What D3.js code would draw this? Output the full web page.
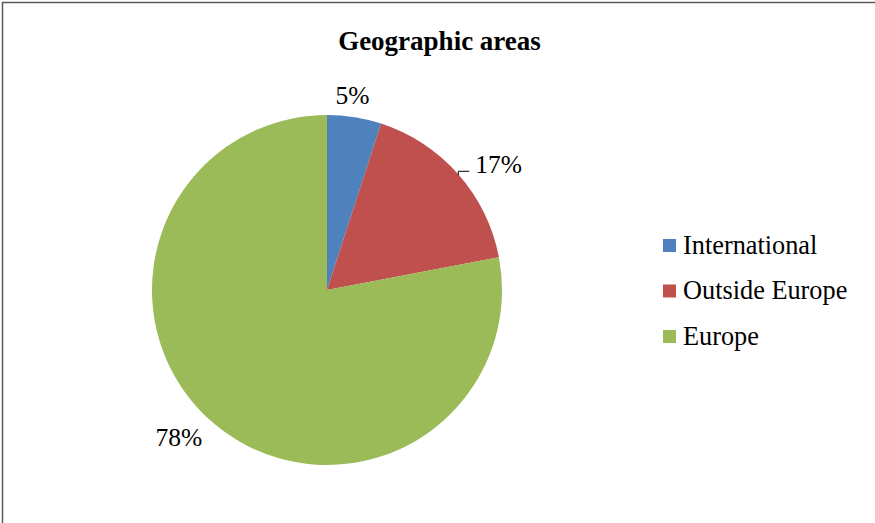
<!DOCTYPE html>
<html>
<head>
<meta charset="utf-8">
<script src="https://cdn.jsdelivr.net/npm/d3@7"></script>
<style>
  html, body { margin: 0; padding: 0; background: #fff; }
  svg { display: block; }
</style>
</head>
<body>
<svg id="chart" width="875" height="523"></svg>
<script>
// Share of activity by geographic area
const categories = ["International", "Outside Europe", "Europe"];
const shares = [5, 17, 78];
const labels = ["5%", "17%", "78%"];
const colors = ["#4F81BD", "#C0504D", "#9BBB59"];

const svg = d3.select("#chart");
const W = 875, H = 523;
const FONT = '"Liberation Serif"';

// Chart area frame: top and left edges fall inside the view
svg.append("path")
  .attr("d", `M2.5,${H}L2.5,2.5L${W},2.5`)
  .attr("fill", "none")
  .attr("stroke", "#595959")
  .attr("stroke-width", 1.5);

svg.append("text")
  .attr("x", 439.5).attr("y", 50)
  .attr("text-anchor", "middle")
  .style("font-family", FONT)
  .style("font-weight", "bold")
  .style("font-size", "27px")
  .text("Geographic areas");

const cx = 327, cy = 290, r = 175;
const g = svg.append("g").attr("transform", `translate(${cx},${cy})`);

const pie = d3.pie().sort(null).value(d => d)(shares);
const arc = d3.arc().innerRadius(0).outerRadius(r);

g.selectAll("path.slice")
  .data(pie)
  .join("path")
  .attr("class", "slice")
  .attr("d", arc)
  .attr("fill", (d, i) => colors[i]);

// Label placement per slice: radius from centre, angular nudge, anchor
const labelCfg = [
  { rad: 197, dAng: -0.027, anchor: "middle" },
  { rad: 205, dAng: 0.0, anchor: "start", leader: true },
  { rad: 209, dAng: 0.097, anchor: "middle" }
];

pie.forEach((d, i) => {
  const c = labelCfg[i];
  const mid = (d.startAngle + d.endAngle) / 2;
  const a = mid + c.dAng;
  let lx = c.rad * Math.sin(a);
  let ly = -c.rad * Math.cos(a);
  if (c.leader) {
    // short elbow leader from the arc edge to the label
    const ex = r * Math.sin(mid), ey = -r * Math.cos(mid);
    const ty = ey - 3;
    g.append("path")
      .attr("d", `M${ex},${ey + 1}L${ex},${ty}L${ex + 11},${ty}`)
      .attr("fill", "none")
      .attr("stroke", "#000")
      .attr("stroke-width", 1);
    lx = ex + 17;
    ly = ty - 7;
  }
  g.append("text")
    .attr("x", lx).attr("y", ly)
    .attr("dy", "0.35em")
    .attr("text-anchor", c.anchor)
    .style("font-family", FONT)
    .style("font-size", "25.5px")
    .attr("fill", "#000")
    .text(labels[i]);
});

// Legend
const legend = svg.append("g").attr("transform", "translate(663,245.5)");
const rowH = 45.5;
categories.forEach((name, i) => {
  const row = legend.append("g").attr("transform", `translate(0,${i * rowH})`);
  row.append("rect")
    .attr("x", 0).attr("y", -6.5)
    .attr("width", 13).attr("height", 13)
    .attr("fill", colors[i]);
  row.append("text")
    .attr("x", 20).attr("y", 8)
    .style("font-family", FONT)
    .style("font-size", "26.3px")
    .attr("fill", "#000")
    .text(name);
});
</script>
</body>
</html>
